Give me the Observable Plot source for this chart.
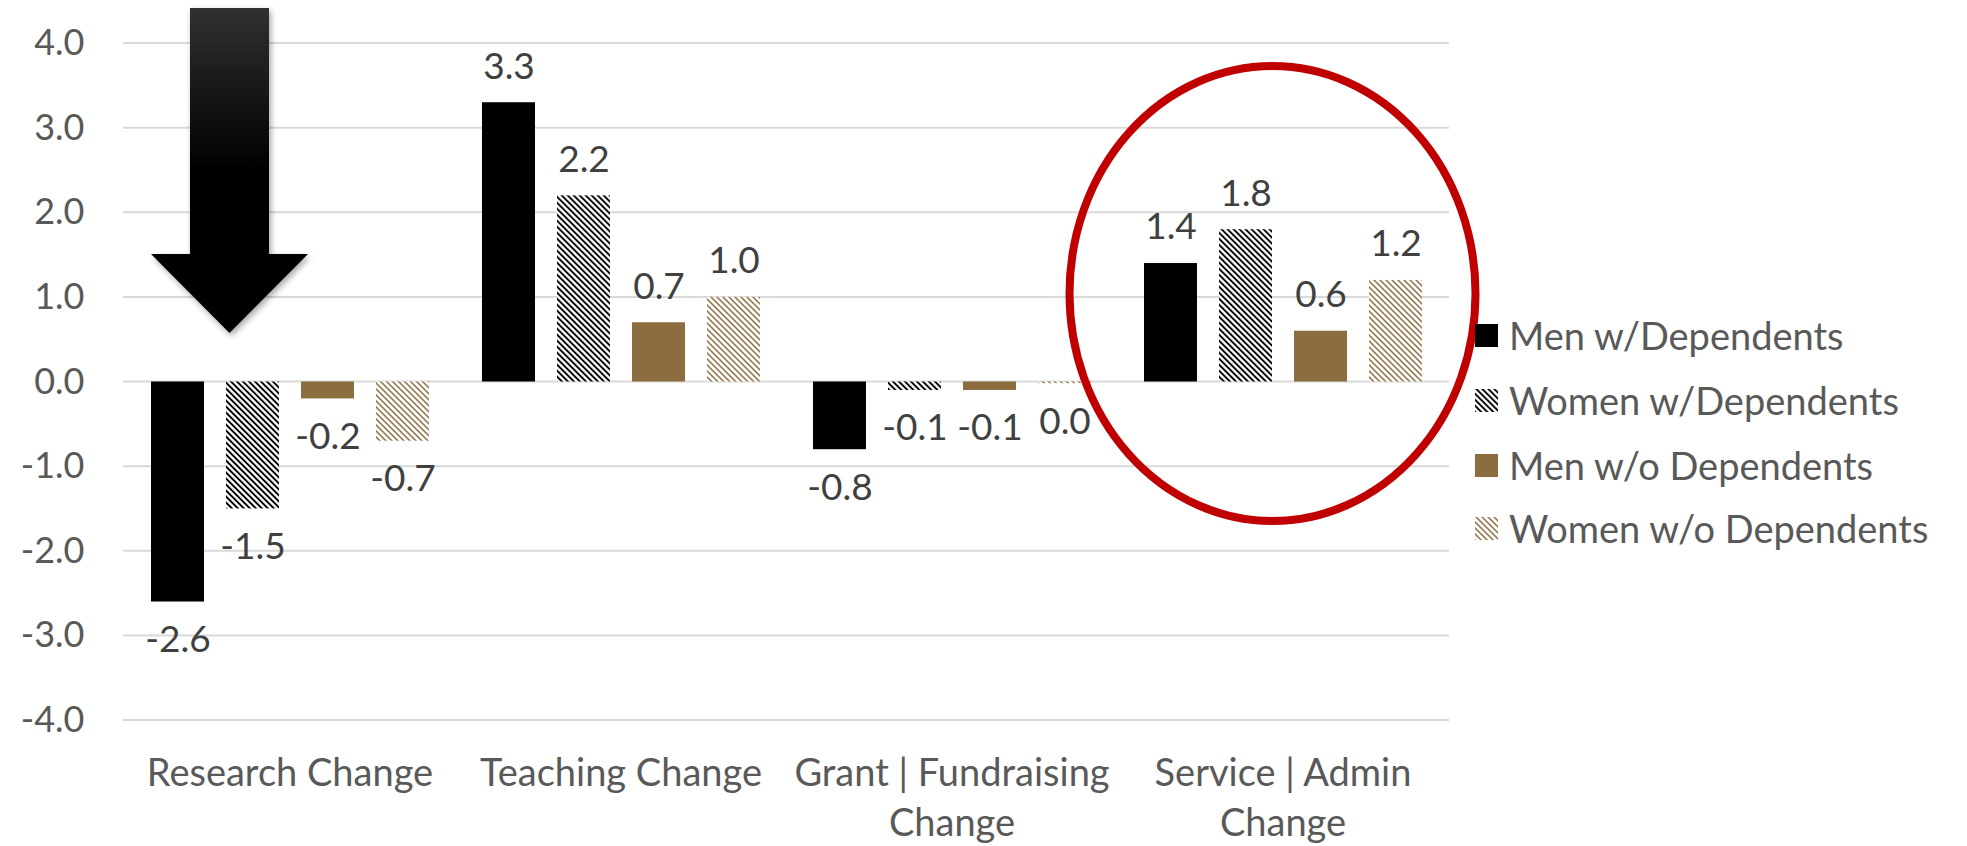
<!DOCTYPE html>
<html><head><meta charset="utf-8">
<script src="https://cdn.jsdelivr.net/npm/d3@7"></script>
<script src="https://cdn.jsdelivr.net/npm/@observablehq/plot@0.6"></script>
<style>
body{margin:0;background:#fff;}
#wrap{position:relative;width:1967px;height:846px;overflow:hidden;font-family:"Gill Sans","Gill Sans MT",Lato,sans-serif;}
#legend .row{position:absolute;left:1475px;height:40px;display:flex;align-items:center;font-size:38px;color:#595959;white-space:nowrap;}
#legend .row svg{margin-right:11px;flex:none;}
</style></head><body>
<svg width="0" height="0" style="position:absolute">
  <defs>
    <pattern id="hatchBlack" patternUnits="userSpaceOnUse" width="4.24" height="4.24" patternTransform="rotate(-45)">
      <rect x="0" y="0" width="4.24" height="4.24" fill="#fff"/>
      <rect x="0" y="0" width="1.9" height="4.24" fill="#000"/>
    </pattern>
    <pattern id="hatchBrown" patternUnits="userSpaceOnUse" width="4.24" height="4.24" patternTransform="rotate(-45)">
      <rect x="0" y="0" width="4.24" height="4.24" fill="#fff"/>
      <rect x="0" y="0" width="1.5" height="4.24" fill="#8B6D3F"/>
    </pattern>
    <linearGradient id="arrowGrad" gradientUnits="userSpaceOnUse" x1="0" y1="8" x2="0" y2="333">
      <stop offset="0" stop-color="#303030"/>
      <stop offset="0.5" stop-color="#000"/>
      <stop offset="1" stop-color="#000"/>
    </linearGradient>
    <filter id="blur" x="-30%" y="-30%" width="160%" height="160%">
      <feGaussianBlur stdDeviation="3"/>
    </filter>
  </defs>
</svg>
<div id="wrap"><div id="legend"></div></div>
<script>
// ---- data ----
const categories = ["Research Change", "Teaching Change", "Grant | Fundraising Change", "Service | Admin Change"];
const categoryLabels = ["Research Change", "Teaching Change", "Grant | Fundraising\nChange", "Service | Admin\nChange"];
const series = ["Men w/Dependents", "Women w/Dependents", "Men w/o Dependents", "Women w/o Dependents"];
const menWithDependents = [-2.6, 3.3, -0.8, 1.4];
const womenWithDependents = [-1.5, 2.2, -0.1, 1.8];
const menWithoutDependents = [-0.2, 0.7, -0.1, 0.6];
const womenWithoutDependents = [-0.7, 1.0, -0.02, 1.2];
const yTicks = [-4, -3, -2, -1, 0, 1, 2, 3, 4];
const seriesFills = ["#000000", "url(#hatchBlack)", "#8B6D3F", "url(#hatchBrown)"];

const seriesValues = [menWithDependents, womenWithDependents, menWithoutDependents, womenWithoutDependents];
const data = [];
categories.forEach((c, i) => series.forEach((s, j) => data.push({category: c, series: s, value: seriesValues[j][i]})));

const FONT = '"Gill Sans","Gill Sans MT",Lato,sans-serif';
const fmt = v => (Math.abs(v) < 0.05 ? 0 : v).toFixed(1);

const W = 1967, H = 846, ML = 123, MR = 518, MT = 43, MB = 126;
const plot = Plot.plot({
  width: W, height: H,
  marginLeft: ML, marginRight: MR, marginTop: MT, marginBottom: MB,
  style: {fontFamily: FONT, background: "transparent", overflow: "visible"},
  fx: {domain: categories, paddingInner: 0.0914, paddingOuter: 0.0457, label: null},
  x: {domain: series, paddingInner: 0.296, paddingOuter: 0.148, axis: null},
  y: {domain: [-4, 4], label: null},
  color: {domain: series, range: seriesFills},
  marks: [
    Plot.axisY(yTicks, {tickFormat: fmt, tickSize: 0, tickPadding: 55, fontSize: 36, fill: "#595959", label: null}),
    Plot.axisFx({anchor: "bottom", tickSize: 0, tickPadding: 30, fontSize: 38, lineHeight: 1.31, fill: "#595959", label: null,
      tickFormat: d => categoryLabels[categories.indexOf(d)]}),
    Plot.barY(data, {fx: "category", x: "series", y: "value", fill: "series"}),
    Plot.text(data.filter(d => d.value >= 0), {fx: "category", x: "series", y: "value", text: d => fmt(d.value), dy: -36, fontSize: 37, fill: "#404040"}),
    Plot.text(data.filter(d => d.value < 0), {fx: "category", x: "series", y: "value", text: d => fmt(d.value), dy: 38, fontSize: 37, fill: "#404040"})
  ]
});
document.getElementById("wrap").prepend(plot);
plot.style.position = "absolute"; plot.style.left = "0"; plot.style.top = "0";

// continuous horizontal gridlines across all facets, positioned by Plot's y scale
const yScale = plot.scale("y");
const gridG = document.createElementNS("http://www.w3.org/2000/svg", "g");
gridG.setAttribute("stroke", "#d9d9d9");
gridG.setAttribute("stroke-width", "2");
yTicks.forEach(t => {
  const yy = yScale.apply(t);
  const ln = document.createElementNS("http://www.w3.org/2000/svg", "line");
  ln.setAttribute("x1", ML); ln.setAttribute("x2", W - MR);
  ln.setAttribute("y1", yy); ln.setAttribute("y2", yy);
  gridG.appendChild(ln);
});
const firstG = plot.querySelector("g");
plot.insertBefore(gridG, firstG);

// annotations: down arrow and red ellipse
const arrowPts = "190,8 269,8 269,254 308,254 229.5,333 151,254 190,254";
plot.insertAdjacentHTML("beforeend",
  '<g class="annot">' +
  `<polygon points="${arrowPts}" fill="#000" opacity="0.35" transform="translate(2,3)" filter="url(#blur)"/>` +
  `<polygon points="${arrowPts}" fill="url(#arrowGrad)"/>` +
  '<ellipse cx="1272.5" cy="293.5" rx="203" ry="227.5" fill="none" stroke="#C00000" stroke-width="8"/>' +
  '</g>');

// legend
const legendY = [335, 400, 465, 528];
const legend = document.getElementById("legend");
series.forEach((s, i) => {
  const row = document.createElement("div");
  row.className = "row";
  row.style.top = (legendY[i] - 20) + "px";
  row.innerHTML = `<svg width="23" height="23"><rect width="23" height="23" fill="${seriesFills[i]}"/></svg><span>${s}</span>`;
  legend.appendChild(row);
});
</script>
</body></html>
